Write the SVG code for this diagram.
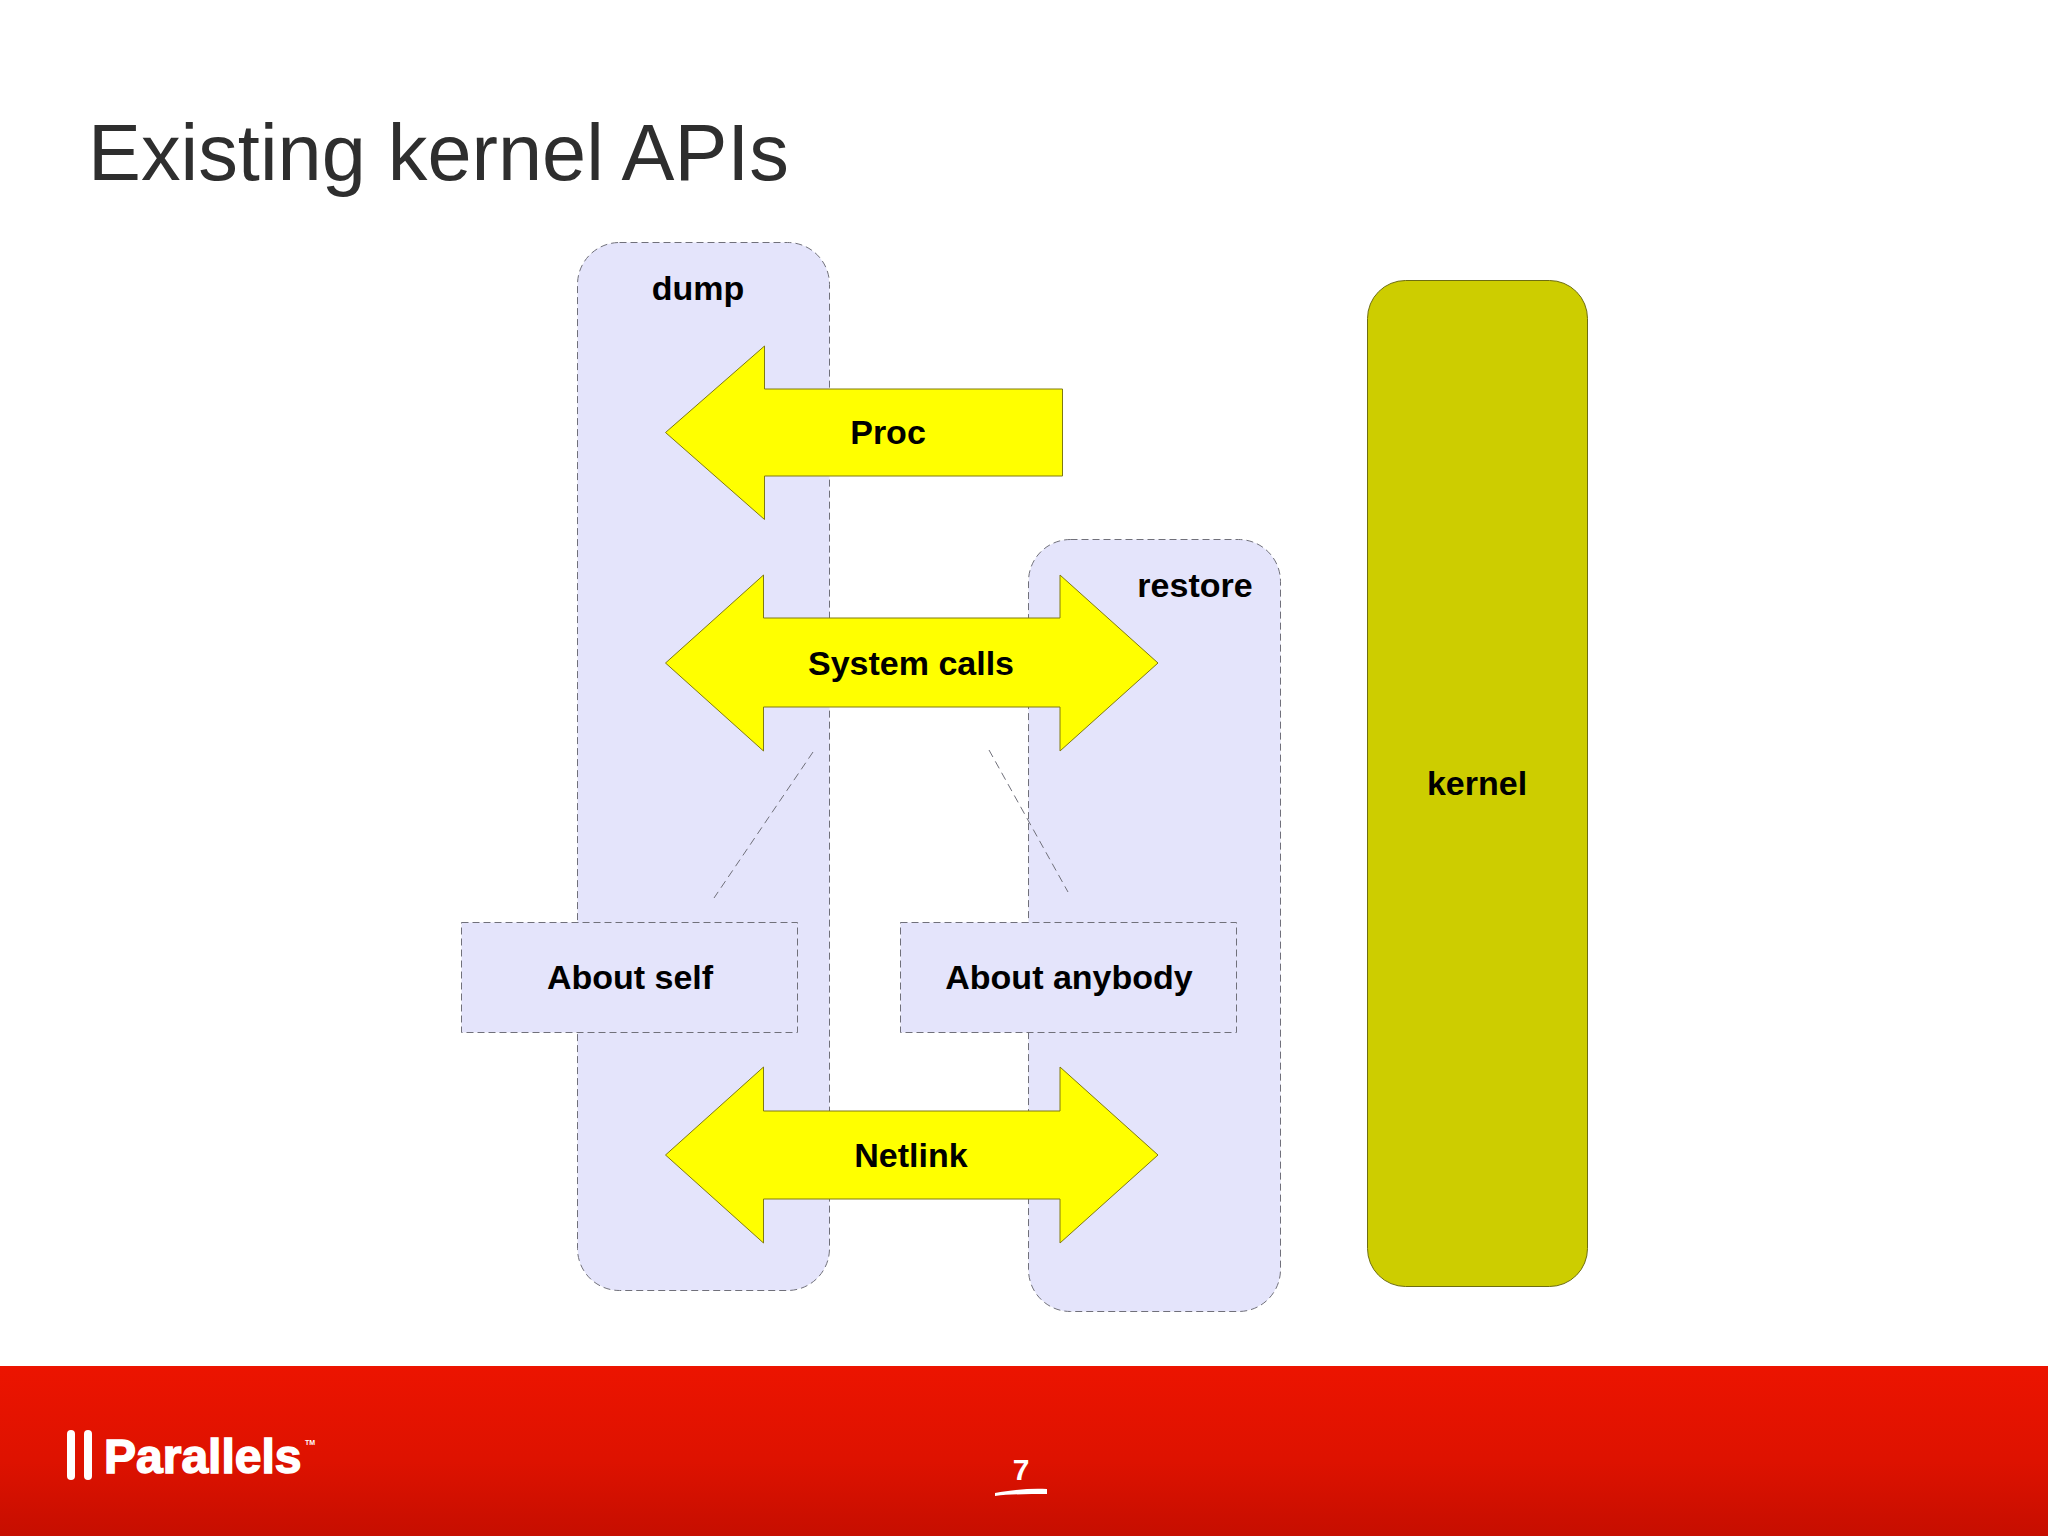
<svg xmlns="http://www.w3.org/2000/svg" width="2048" height="1536" viewBox="0 0 2048 1536">
<style>
text{font-family:"Liberation Sans",Arial,sans-serif}
.lbl{font-size:34px;font-weight:700;fill:#000;text-anchor:middle}
.zone{fill:#e4e4fb;stroke:#70707a;stroke-width:1;stroke-dasharray:7 4}
.arrow{fill:#ffff00;stroke:#807a10;stroke-width:1;stroke-linejoin:miter}
.link{fill:none;stroke:#70707a;stroke-width:1;stroke-dasharray:8 5}
</style>
<defs><linearGradient id="band" x1="0" y1="0" x2="0" y2="1"><stop offset="0" stop-color="#ec1400"/><stop offset="0.55" stop-color="#de1200"/><stop offset="1" stop-color="#c60e00"/></linearGradient></defs>
<rect width="2048" height="1536" fill="#fff"/>
<text x="88" y="180" font-size="79" fill="#2e2e2e" textLength="701" lengthAdjust="spacingAndGlyphs">Existing kernel APIs</text>
<g id="dump"><rect class="zone" x="577.500" y="242.500" width="252" height="1048" rx="42"/><text class="lbl" x="698" y="300">dump</text></g>
<g id="restore"><rect class="zone" x="1028.500" y="539.500" width="252" height="772" rx="42"/><text class="lbl" x="1195" y="597">restore</text></g>
<g id="kernel"><rect x="1367.500" y="280.500" width="220" height="1006" rx="38" fill="#cdcd00" stroke="#6e6e10" stroke-width="1"/><text class="lbl" x="1477" y="795">kernel</text></g>
<g id="connectors">
<path class="link" d="M813 752 714 898"/>
<path class="link" d="M989 750 1068 892"/>
</g>
<g id="about-self"><rect class="zone" x="461.500" y="922.500" width="336" height="110"/><text class="lbl" x="630" y="989">About self</text></g>
<g id="about-anybody"><rect class="zone" x="900.500" y="922.500" width="336" height="110"/><text class="lbl" x="1069" y="989">About anybody</text></g>
<g id="proc"><path class="arrow" d="M665.500 432.500 764.500 346V389H1062.500V476H764.500V519.500Z"/><text class="lbl" x="888" y="444">Proc</text></g>
<g id="system-calls"><path class="arrow" d="M665.500 663 763.500 575V618H1060V575L1158 663 1060 751V707H763.500V751Z"/><text class="lbl" x="911" y="675">System calls</text></g>
<g id="netlink"><path class="arrow" d="M665.500 1155 763.500 1067V1111H1060V1067L1158 1155 1060 1243V1199H763.500V1243Z"/><text class="lbl" x="911" y="1167">Netlink</text></g>
<g id="footer">
<rect y="1366" width="2048" height="170" fill="url(#band)"/>
<rect x="67" y="1430" width="8" height="50" rx="4" fill="#fff"/>
<rect x="84" y="1430" width="8" height="50" rx="4" fill="#fff"/>
<text x="104" y="1473" font-size="48" font-weight="700" fill="#fff" stroke="#fff" stroke-width="1.500">Parallels</text>
<text x="305" y="1445" font-size="7" font-weight="700" fill="#fff">TM</text>
<text x="1021" y="1480" font-size="30" font-weight="700" fill="#fff" text-anchor="middle">7</text>
<path d="M995 1493C1010 1490 1030 1488 1047 1489V1494C1030 1494 1010 1494 995 1496Z" fill="#fff"/>
</g>
</svg>
